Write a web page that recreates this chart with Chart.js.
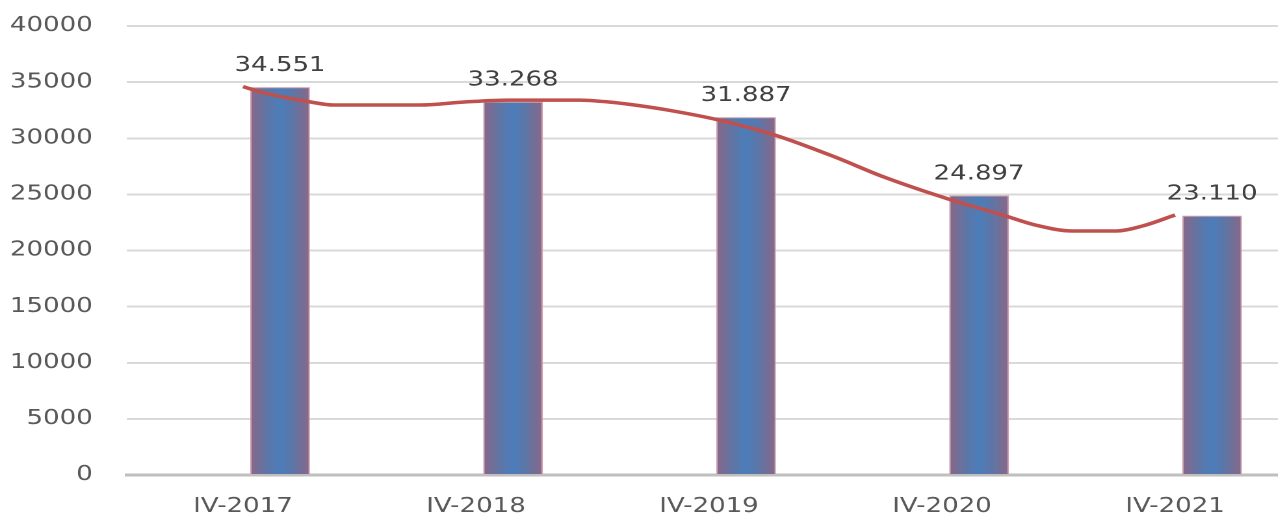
<!DOCTYPE html>
<html lang="en">
<head>
    <meta charset="UTF-8">
    <title>IV-2017 – IV-2021</title>
    <script src="https://cdn.jsdelivr.net/npm/chart.js"></script>
    <style>
        html, body { margin: 0; padding: 0; background: #fff; }
        #outer { width: 1278px; height: 516px; overflow: hidden; }
        /* the reference is drawn horizontally stretched */
        #chart { display: block; transform: scaleX(1.3); transform-origin: 0 0; }
    </style>
</head>
<body>
    <div id="outer">
        <canvas id="chart" width="1000" height="516"></canvas>
    </div>

    <script>
        // Data
        const categories = ['IV-2017', 'IV-2018', 'IV-2019', 'IV-2020', 'IV-2021'];
        const emptySeries = [null, null, null, null, null];
        const values = [34551, 33268, 31887, 24897, 23110];

        // trend line (position in category units, value)
        const trendPos = [0, 0.09, 0.29, 0.39, 0.76, 0.95, 1.14, 1.44, 1.57, 1.68, 1.82, 2.04,
                          2.28, 2.54, 2.75, 3.04, 3.26, 3.40, 3.56, 3.75, 3.86, 4.0];
        const trendVal = [34600, 34050, 33230, 32960, 32960, 33230, 33400, 33400, 33230, 32960, 32520, 31630,
                          30300, 28330, 26550, 24500, 23160, 22270, 21740, 21740, 22180, 23160];

        const yTicks = { min: 0, max: 40000, step: 5000 };

        const FONT = 'DejaVu Sans';

        function fmt(v) {
            return String(v).replace(/\B(?=(\d{3})+(?!\d))/g, '.');
        }

        // horizontal gradient on each bar, built from the bar's own position
        const barGradient = {
            id: 'barGradient',
            beforeDatasetsDraw(chart) {
                const meta = chart.getDatasetMeta(1);
                meta.data.forEach(el => {
                    const half = el.width / 2;
                    const g = chart.ctx.createLinearGradient(el.x - half, 0, el.x + half, 0);
                    g.addColorStop(0, '#8A6788');
                    g.addColorStop(0.3, '#5C77A8');
                    g.addColorStop(0.5, '#4C7DBA');
                    g.addColorStop(0.7, '#5C77A8');
                    g.addColorStop(1, '#8A6788');
                    el.options.backgroundColor = g;
                });
            }
        };

        const valueLabels = {
            id: 'valueLabels',
            afterDatasetsDraw(chart) {
                const meta = chart.getDatasetMeta(1);
                const c = chart.ctx;
                c.save();
                c.font = '20px "' + FONT + '"';
                c.fillStyle = '#404040';
                c.textAlign = 'center';
                c.textBaseline = 'alphabetic';
                meta.data.forEach((el, i) => {
                    c.fillText(fmt(values[i]), el.x, el.y - 16);
                });
                c.restore();
            }
        };

        // the sample size Chart.js measures here is half a category, hence > 1
        const CAT_PCT = 1.272;
        const BAR_PCT = 0.807;

        const chart = new Chart(document.getElementById('chart'), {
            type: 'bar',
            data: {
                labels: categories,
                datasets: [
                    {
                        type: 'line',
                        label: 'Trend',
                        xAxisID: 'xl',
                        data: trendPos.map((p, i) => ({ x: p, y: trendVal[i] })),
                        borderColor: '#C0504D',
                        borderWidth: 3.5,
                        pointRadius: 0,
                        cubicInterpolationMode: 'monotone',
                        fill: false,
                        order: 0
                    },
                    {
                        label: 'Values',
                        data: values,
                        backgroundColor: () => '#4F7DB8',
                        borderColor: '#D4A0AE',
                        borderWidth: 1,
                        categoryPercentage: CAT_PCT,
                        barPercentage: BAR_PCT,
                        order: 2
                    },
                    {
                        label: '',
                        data: emptySeries,
                        categoryPercentage: CAT_PCT,
                        barPercentage: BAR_PCT,
                        order: 1
                    }
                ]
            },
            options: {
                responsive: false,
                animation: false,
                devicePixelRatio: 2,
                layout: { padding: { top: 26, right: 6.5, left: 0, bottom: 0 } },
                plugins: {
                    legend: { display: false },
                    tooltip: { enabled: false }
                },
                scales: {
                    x: {
                        afterFit(scale) { scale.height = 41; },
                        grid: { display: false },
                        border: { display: true, color: '#BFBFBF', width: 3 },
                        ticks: {
                            color: '#595959',
                            font: { family: FONT, size: 20 },
                            padding: 12,
                            maxRotation: 0
                        }
                    },
                    xl: {
                        type: 'linear',
                        display: false,
                        offset: false,
                        min: -0.5,
                        max: 4.5
                    },
                    y: {
                        min: yTicks.min,
                        max: yTicks.max,
                        afterFit(scale) {
                            scale.width = 97.3;
                            scale.paddingTop = 0;
                            scale.paddingBottom = 0;
                        },
                        border: { display: false },
                        grid: { color: '#D9D9D9', lineWidth: 2, drawTicks: false },
                        ticks: {
                            stepSize: yTicks.step,
                            color: '#595959',
                            font: { family: FONT, size: 20 },
                            padding: 26,
                            callback: v => String(v)
                        }
                    }
                }
            },
            plugins: [barGradient, valueLabels]
        });
    </script>
</body>
</html>
